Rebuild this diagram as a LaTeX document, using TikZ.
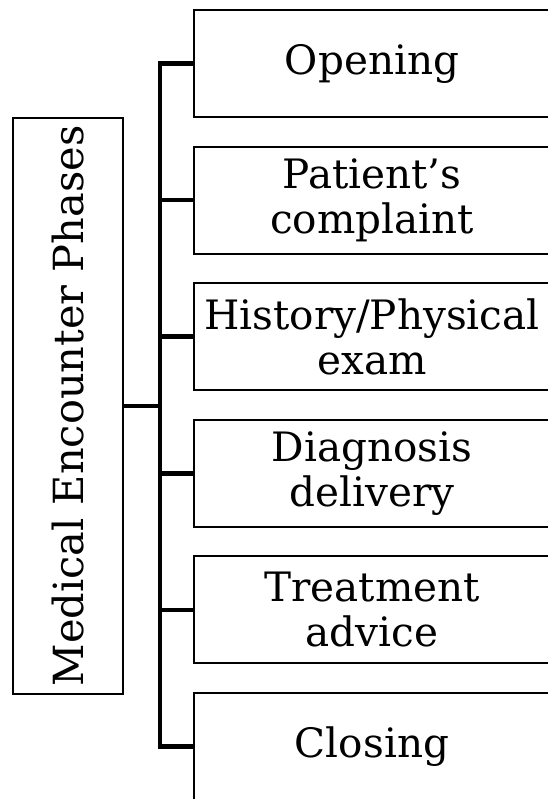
\documentclass[tikz,border=0pt]{standalone}
\usepackage{fontspec}
\setmainfont{DejaVu Serif}
\usetikzlibrary{positioning}
\tikzset{
  phase/.style={draw=black,line width=1.9pt,fill=white,align=center,minimum width=356pt,minimum height=107pt,inner sep=2pt,font=\fontsize{40.5}{45}\selectfont},
  title/.style={draw=black,line width=1.9pt,fill=white,align=center,minimum width=576pt,minimum height=110pt,inner sep=2pt,font=\fontsize{41.5}{45}\selectfont},
  branch/.style={line width=4.6pt,draw=black}
}
\begin{document}
\begin{tikzpicture}[x=1pt,y=-1pt,node distance=27.7pt]
  \useasboundingbox (0,0) rectangle (547,799);
  \node[title,rotate=90] (enc) at (68,406) {Medical Encounter Phases};
  \node[phase] (open) at (372,63.5) {Opening};
  \node[phase,below=of open] (compl) {Patient’s\\complaint};
  \node[phase,below=of compl] (hist) {History/Physical\\exam};
  \node[phase,below=of hist] (diag) {Diagnosis\\delivery};
  \node[phase,below=of diag] (treat) {Treatment\\advice};
  \node[phase,below=of treat] (close) {Closing};
  \coordinate (spine) at (160,0);
  \draw[branch] (open.west) -- (open.west -| spine) -- (close.west -| spine) -- (close.west);
  \foreach \n in {compl,hist,diag,treat}
    \draw[branch] (\n.west) -- (\n.west -| spine);
  \draw[branch] (enc.south) -- (enc.south -| spine);
\end{tikzpicture}
\end{document}
